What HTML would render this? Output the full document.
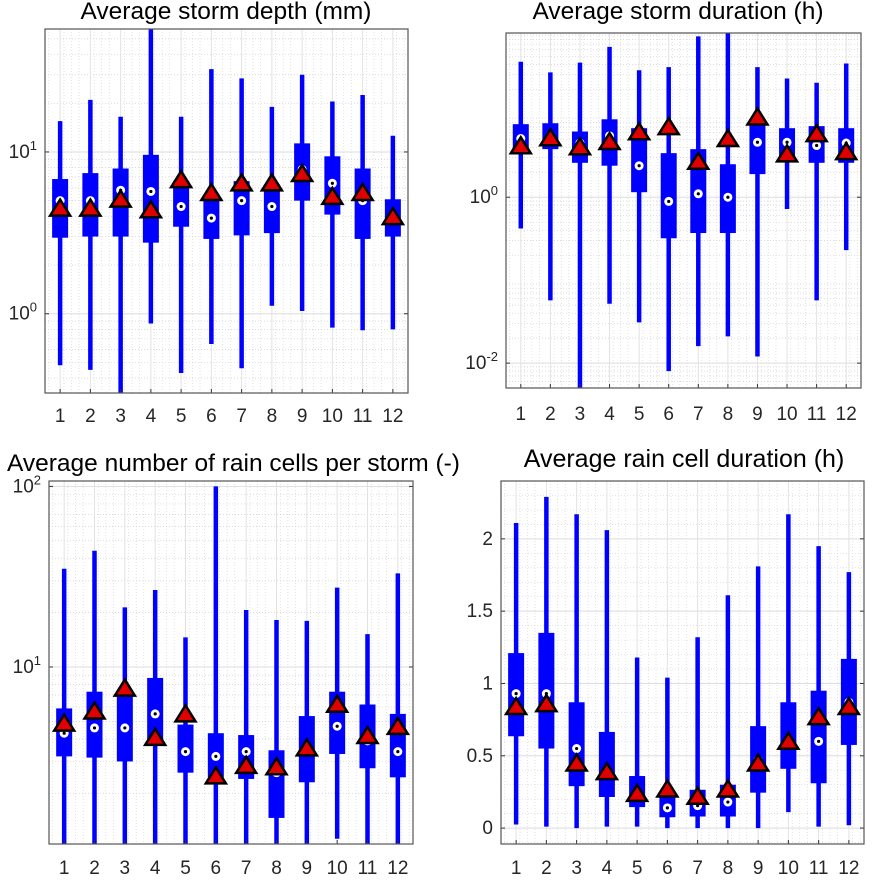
<!DOCTYPE html>
<html><head><meta charset="utf-8">
<style>
body{margin:0;background:#fff;width:872px;height:887px;overflow:hidden}
svg{display:block;font-family:"Liberation Sans",Arial,sans-serif}
</style></head>
<body>
<svg id="chart" width="872" height="887" viewBox="0 0 872 887"></svg>
<script>
const months = ['1','2','3','4','5','6','7','8','9','10','11','12'];
// Panel A: storm depth
const depthMin = [0.48,0.45,0.3,0.87,0.43,0.65,0.46,1.12,1.04,0.82,0.79,0.80];
const depthQ1 = [2.95,3.0,3.0,2.75,3.45,2.9,3.05,3.15,5.0,4.1,2.9,3.0];
const depthQ3 = [6.8,7.4,7.9,9.6,6.6,5.4,6.6,6.3,11.3,9.4,7.9,5.1];
const depthMax = [15.5,21,16.5,60,16.5,32.5,28.5,19,30,20.5,22.5,12.6];
const depthMedian = [5.0,5.0,5.8,5.7,4.6,3.9,5.0,4.6,7.8,6.4,5.0,4.0];
const depthObs = [4.4,4.4,5.0,4.3,6.6,5.5,6.3,6.3,7.2,5.2,5.5,3.9];
// Panel B: storm duration
const durMin = [0.42,0.057,0.004,0.052,0.031,0.008,0.016,0.021,0.012,0.72,0.057,0.23];
const durQ1 = [3.7,3.8,2.6,2.4,1.15,0.32,0.37,0.37,1.9,3.0,2.6,2.6];
const durQ3 = [7.6,7.8,6.2,8.7,6.8,3.4,3.8,2.5,8.5,6.8,7.2,6.8];
const durMax = [43,32,42,65,34,37,87,120,37,27,24,41];
const durMedian = [5.1,5.5,4.5,5.5,2.4,0.89,1.1,1.0,4.6,4.6,4.2,4.5];
const durObs = [4.0,5.0,3.9,4.5,5.9,6.8,2.6,4.9,8.9,3.2,5.6,3.4];
// Panel C: number of rain cells per storm
const cellsMin = [1,1,1,1,1,1,1,1,1,1.12,1,1];
const cellsQ1 = [3.2,3.15,3.0,3.8,2.6,2.45,2.4,1.46,2.3,3.3,2.75,2.45];
const cellsQ3 = [5.9,7.3,7.4,8.7,4.8,4.3,4.2,3.46,5.35,7.3,6.2,5.5];
const cellsMax = [35,44,21.4,26.7,14.6,100,20.7,18.2,18,27.5,15.2,33];
const cellsMedian = [4.3,4.6,4.6,5.5,3.4,3.2,3.4,2.6,3.5,4.7,3.9,3.4];
const cellsObs = [4.8,5.6,7.5,4.0,5.4,2.45,2.8,2.75,3.5,6.1,4.1,4.6];
// Panel D: rain cell duration
const cdurMin = [0.025,0.01,0,0.01,0.01,0,0,0,0,0.11,0.01,0.02];
const cdurQ1 = [0.635,0.55,0.29,0.215,0.145,0.075,0.08,0.08,0.245,0.41,0.31,0.575];
const cdurQ3 = [1.21,1.35,0.87,0.665,0.36,0.25,0.265,0.3,0.705,0.87,0.95,1.17];
const cdurMax = [2.11,2.29,2.17,2.06,1.18,1.04,1.32,1.61,1.81,2.17,1.95,1.77];
const cdurMedian = [0.93,0.93,0.55,0.39,0.24,0.14,0.155,0.18,0.47,0.6,0.6,0.87];
const cdurObs = [0.83,0.85,0.44,0.38,0.23,0.26,0.21,0.26,0.44,0.59,0.76,0.83];

const NS='http://www.w3.org/2000/svg';
const svg=document.getElementById('chart');
function mk(tag,attrs,parent){const e=document.createElementNS(NS,tag);for(const k in attrs)e.setAttribute(k,attrs[k]);(parent||svg).appendChild(e);return e;}

function panel(cfg){
  const g=mk('g',{});
  
  
  const {x0,x1,y0,y1}=cfg;
  const xs=i=>x0+(i+0.5)*(x1-x0)/12;
  let ys;
  if(cfg.log){const a=cfg.lmin,b=cfg.lmax;ys=v=>y1-(Math.log10(Math.max(v,1e-6))-a)/(b-a)*(y1-y0);}
  else{const a=cfg.lmin,b=cfg.lmax;ys=v=>y1-(v-a)/(b-a)*(y1-y0);}
  const clampY=y=>Math.max(y0,Math.min(y1,y));
  mk('rect',{x:x0,y:y0,width:x1-x0,height:y1-y0,fill:'#fff'},g);
  const grid=mk('g',{},g);
  
  
  for(let i=0;i<48;i++){const x=x0+(i+0.5)*(x1-x0)/48;if(i%4==1)continue;mk('line',{x1:x,x2:x,y1:y0,y2:y1,stroke:'#d6d6d6','stroke-width':0.7,'stroke-dasharray':'1,2'},grid);}
  if(cfg.log){
    for(let d=Math.floor(cfg.lmin);d<=Math.ceil(cfg.lmax);d++){for(let m=2;m<=9;m++){const y=ys(m*Math.pow(10,d));if(y>y0&&y<y1)mk('line',{x1:x0,x2:x1,y1:y,y2:y,stroke:'#cfcfcf','stroke-width':0.7,'stroke-dasharray':'1,2'},grid);}}
  } else {
    for(let v=-0.1;v<=2.4;v+=0.1){const y=ys(v);if(y>y0&&y<y1)mk('line',{x1:x0,x2:x1,y1:y,y2:y,stroke:'#d6d6d6','stroke-width':0.7,'stroke-dasharray':'1,2'},grid);}
  }
  for(let i=0;i<12;i++){const x=xs(i);mk('line',{x1:x,x2:x,y1:y0,y2:y1,stroke:'#e2e2e2','stroke-width':1},grid);}
  cfg.ticks.forEach(t=>{const y=ys(t.v);mk('line',{x1:x0,x2:x1,y1:y,y2:y,stroke:'#dedede','stroke-width':1},grid);
    mk('line',{x1:x0,x2:x0+4,y1:y,y2:y,stroke:'#333','stroke-width':1},g);mk('line',{x1:x1,x2:x1-4,y1:y,y2:y,stroke:'#333','stroke-width':1},g);
    const tx=mk('text',{x:x0-8,y:y+6,'text-anchor':'end','font-size':19,fill:'#262626'},g);
    
    
    if(t.e!==undefined){tx.textContent='10';const s=mk('tspan',{dy:-8,'font-size':13},tx);s.textContent=t.e;}
    else tx.textContent=t.l;});
  for(let i=0;i<12;i++){
    const x=xs(i);
    const bg=mk('g',{},g);
    
    
    const wt=clampY(ys(cfg.max[i])),wb=clampY(ys(cfg.min[i]));
    mk('line',{x1:x,x2:x,y1:wt,y2:wb,stroke:'#0000ff','stroke-width':4.5},bg);
    const bt=ys(cfg.q3[i]),bb=ys(cfg.q1[i]);
    mk('rect',{x:x-8,y:bt,width:16,height:bb-bt,fill:'#0000ff'},bg);
    const my=ys(cfg.med[i]);
    mk('circle',{cx:x,cy:my,r:4.5,fill:'#fff'},bg);
    mk('circle',{cx:x,cy:my,r:1.6,fill:'#000'},bg);
    const ty=ys(cfg.obs[i]);
    const tri=mk('polygon',{points:`${x-10},${ty+6} ${x+10},${ty+6} ${x},${ty-10}`,fill:'#e00000',stroke:'#000','stroke-width':2.5,'stroke-linejoin':'miter'},bg);
    
    
    mk('line',{x1:x,x2:x,y1:y1,y2:y1-4,stroke:'#333'},g);
    const xl=mk('text',{x:x,y:cfg.xly,'text-anchor':'middle','font-size':19,fill:'#262626'},g);
    
    
    xl.textContent=months[i];
  }
  mk('rect',{x:x0,y:y0,width:x1-x0,height:y1-y0,fill:'none',stroke:'#555','stroke-width':1.2},g);
  const tt=mk('text',{x:cfg.tx,y:cfg.ty,'text-anchor':cfg.ta||'middle','font-size':cfg.tfs,fill:'#000'},g);
  
  
  tt.textContent=cfg.title;
}

panel({name:'storm-depth-panel',x0:45,x1:408,y0:29,y1:393,log:true,lmin:-0.49,lmax:1.76,xly:422,
  ticks:[{v:1,e:'0'},{v:10,e:'1'}],min:depthMin,q1:depthQ1,q3:depthQ3,max:depthMax,med:depthMedian,obs:depthObs,
  title:'Average storm depth (mm)',tx:226,ty:19,tfs:24.5});
panel({name:'storm-duration-panel',x0:506,x1:861,y0:33,y1:388,log:true,lmin:-2.3,lmax:1.98,xly:420,
  ticks:[{v:0.01,e:'-2'},{v:1,e:'0'}],min:durMin,q1:durQ1,q3:durQ3,max:durMax,med:durMedian,obs:durObs,
  title:'Average storm duration (h)',tx:678,ty:19,tfs:24.5});
panel({name:'rain-cells-panel',x0:49,x1:413,y0:481,y1:844,log:true,lmin:0.02,lmax:2.03,xly:874,
  ticks:[{v:10,e:'1'},{v:100,e:'2'}],min:cellsMin,q1:cellsQ1,q3:cellsQ3,max:cellsMax,med:cellsMedian,obs:cellsObs,
  title:'Average number of rain cells per storm (-)',tx:7,ty:471,ta:'start',tfs:24.5});
panel({name:'rain-cell-duration-panel',x0:501,x1:864,y0:481,y1:844,log:false,lmin:-0.11,lmax:2.4,xly:874,
  ticks:[{v:0,l:'0'},{v:0.5,l:'0.5'},{v:1,l:'1'},{v:1.5,l:'1.5'},{v:2,l:'2'}],min:cdurMin,q1:cdurQ1,q3:cdurQ3,max:cdurMax,med:cdurMedian,obs:cdurObs,
  title:'Average rain cell duration (h)',tx:684,ty:467,tfs:25});
</script>
</body></html>
